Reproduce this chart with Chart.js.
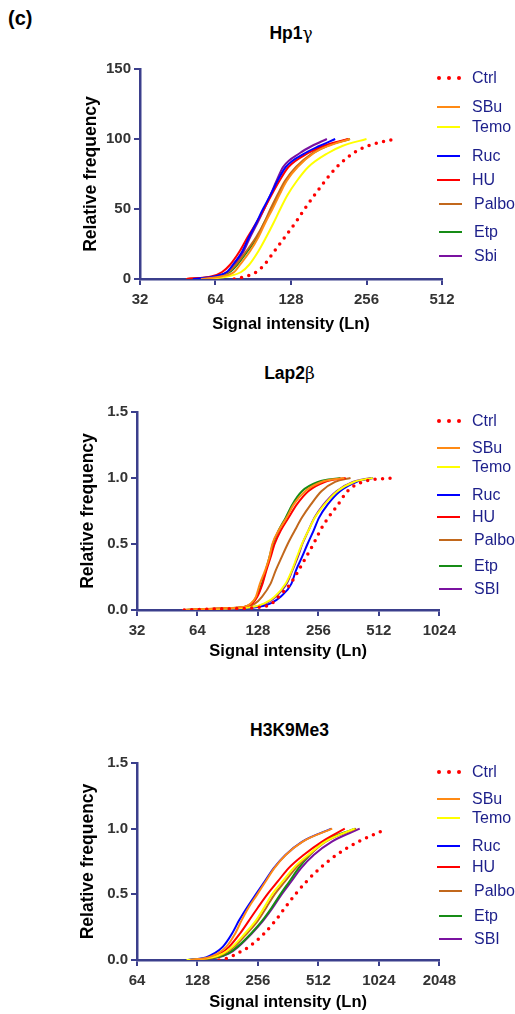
<!DOCTYPE html>
<html>
<head>
<meta charset="utf-8">
<title>Cumulative signal intensity</title>
<script src="https://cdn.jsdelivr.net/npm/chart.js@4.4.1/dist/chart.umd.min.js"></script>
<style>
  body { margin: 0; background: #fff; font-family: "Liberation Sans", Arial, sans-serif; }
  #page { position: relative; width: 515px; height: 1014px; overflow: hidden; background: #fff; }
  #tag { position: absolute; left: 8px; top: 7px; font-size: 20px; font-weight: bold; color: #000; }
  .panel-title { position: absolute; width: 300px; text-align: center; font-size: 17.5px; font-weight: bold; color: #000; line-height: 20px; }
  .panel-title .greek { font-weight: normal; font-family: "DejaVu Serif", serif; font-size: 17px; }
  .chart-box { position: absolute; }
  .legend-item { position: absolute; height: 18px; line-height: 18px; font-size: 16px; color: #1c1f8a; white-space: nowrap; }
  .legend-item .swatch { position: absolute; left: 0; top: 8px; width: 23px; height: 2px; }
  .legend-item .dot { position: absolute; top: 7px; width: 4px; height: 4px; border-radius: 50%; background: #ff0000; }
  .legend-item .label { position: absolute; left: 35px; top: 0; }
</style>
</head>
<body>
<div id="page">
  <div id="tag">(c)</div>
</div>
<script>
// ---- data ----
const NAMES_HP1 = ['Ctrl', 'SBu', 'Temo', 'Ruc', 'HU', 'Palbo', 'Etp', 'Sbi'];
const NAMES_LAP = ['Ctrl', 'SBu', 'Temo', 'Ruc', 'HU', 'Palbo', 'Etp', 'SBI'];
const NAMES_H3K = ['Ctrl', 'SBu', 'Temo', 'Ruc', 'HU', 'Palbo', 'Etp', 'SBI'];

// Hp1 gamma: cumulative frequency levels and the intensity where each curve reaches them
const HP1_LEVELS = [0, 2, 5, 10, 20, 30, 40, 50, 60, 70, 80, 90, 95, 100];
const HP1_CTRL  = [76, 85, 93, 100, 110, 121, 133, 145, 159, 175, 195, 227, 258, 332];
const HP1_SBU   = [56, 68, 76, 80, 88, 95, 101, 108, 115, 123, 136, 158, 180, 220];
const HP1_TEMO  = [60, 72, 81, 87, 95, 102, 109, 116, 124, 135, 150, 180, 205, 256];
const HP1_RUC   = [52, 64, 71, 75, 82, 87, 93, 99, 106, 113, 122, 146, 166, 192];
const HP1_HU    = [49, 62, 68, 73, 80, 86, 93, 100, 107, 115, 125, 150, 172, 216];
const HP1_PALBO = [49, 64, 72, 77, 85, 93, 100, 106, 113, 121, 134, 156, 177, 218];
const HP1_ETP   = [53, 65, 73, 78, 86, 94, 100, 107, 114, 122, 135, 157, 178, 220];
const HP1_SBI   = [54, 65, 72, 76, 83, 88, 94, 100, 106, 112, 119, 139, 155, 178];
const HP1_X_TICKS = [32, 64, 128, 256, 512];
const HP1_Y_TICKS = [0, 50, 100, 150];

// Lap2 beta
const LAP_LEVELS = [0, 0.01, 0.02, 0.05, 0.1, 0.2, 0.3, 0.4, 0.5, 0.6, 0.7, 0.8, 0.9, 0.97, 1.0];
const LAP_CTRL  = [55, 90, 130, 150, 162, 186, 204, 222, 242, 261, 287, 321, 357, 425, 590];
const LAP_SBU   = [54, 75, 105, 118, 125, 131, 139, 146, 151, 162, 178, 193, 220, 265, 345];
const LAP_TEMO  = [60, 85, 118, 138, 155, 176, 189, 200, 212, 228, 246, 275, 318, 385, 478];
const LAP_RUC   = [64, 92, 125, 148, 166, 188, 198, 212, 226, 242, 258, 285, 328, 395, 480];
const LAP_HU    = [58, 80, 108, 120, 127, 135, 141, 148, 155, 166, 182, 200, 228, 275, 350];
const LAP_PALBO = [55, 78, 108, 124, 134, 148, 157, 168, 180, 195, 212, 235, 265, 310, 370];
const LAP_ETP   = [56, 78, 106, 119, 126, 134, 140, 146, 152, 162, 176, 190, 212, 255, 330];
const LAP_SBI   = [62, 88, 120, 140, 157, 178, 190, 202, 213, 228, 245, 272, 315, 380, 470];
const LAP_X_TICKS = [32, 64, 128, 256, 512, 1024];
const LAP_Y_TICKS = [0, 0.5, 1.0, 1.5];

// H3K9Me3
const H3K_LEVELS = [0, 0.02, 0.05, 0.1, 0.2, 0.3, 0.4, 0.5, 0.6, 0.7, 0.8, 0.9, 1.0];
const H3K_CTRL_LEVELS = [0, 0.02, 0.05, 0.1, 0.2, 0.3, 0.4, 0.5, 0.6, 0.7, 0.8, 0.9, 0.98];
const H3K_CTRL  = [164, 185, 202, 231, 274, 313, 350, 393, 448, 522, 630, 807, 1052];
const H3K_SBU   = [118, 145, 162, 178, 197, 212, 230, 254, 280, 309, 352, 426, 600];
const H3K_TEMO  = [113, 152, 172, 191, 220, 250, 275, 301, 340, 385, 455, 552, 776];
const H3K_RUC   = [115, 141, 155, 171, 190, 206, 226, 250, 277, 307, 351, 424, 595];
const H3K_HU    = [115, 150, 167, 184, 208, 231, 256, 285, 322, 364, 432, 532, 693];
const H3K_PALBO = [120, 155, 175, 195, 225, 256, 282, 310, 350, 395, 462, 555, 790];
const H3K_ETP   = [118, 160, 182, 202, 236, 269, 300, 331, 368, 408, 465, 545, 776];
const H3K_SBI   = [120, 162, 184, 204, 238, 272, 304, 336, 376, 420, 485, 595, 822];
const H3K_X_TICKS = [64, 128, 256, 512, 1024, 2048];
const H3K_Y_TICKS = [0, 0.5, 1.0, 1.5];

// ---- styles ----
const COLORS = ['#ff0000', '#ff8a14', '#ffff00', '#0000ff', '#ff0000', '#c2681c', '#168c16', '#7a12a0'];
const AXIS_COLOR = '#3b3f8c';
const TICK_COLOR = '#333333';
const LEGEND_STEPS = [0, 0.163, 0.276, 0.44, 0.57, 0.71, 0.862, 1.0];

const panels = [
  {
    title: 'Hp1<span class="greek">γ</span>', names: NAMES_HP1,
    levels: [HP1_LEVELS, HP1_LEVELS, HP1_LEVELS, HP1_LEVELS, HP1_LEVELS, HP1_LEVELS, HP1_LEVELS, HP1_LEVELS],
    series: [HP1_CTRL, HP1_SBU, HP1_TEMO, HP1_RUC, HP1_HU, HP1_PALBO, HP1_ETP, HP1_SBI],
    xTicks: HP1_X_TICKS, yTicks: HP1_Y_TICKS, digits: 0,
    axisX: 140, right: 442, top: 67, bottom: 279, xTitleY: 325, titleY: 33
  },
  {
    title: 'Lap2<span class="greek">β</span>', names: NAMES_LAP,
    levels: [LAP_LEVELS, LAP_LEVELS, LAP_LEVELS, LAP_LEVELS, LAP_LEVELS, LAP_LEVELS, LAP_LEVELS, LAP_LEVELS],
    series: [LAP_CTRL, LAP_SBU, LAP_TEMO, LAP_RUC, LAP_HU, LAP_PALBO, LAP_ETP, LAP_SBI],
    xTicks: LAP_X_TICKS, yTicks: LAP_Y_TICKS, digits: 1,
    axisX: 137, right: 442, top: 410, bottom: 610, xTitleY: 652, titleY: 373
  },
  {
    title: 'H3K9Me3', names: NAMES_H3K,
    levels: [H3K_CTRL_LEVELS, H3K_LEVELS, H3K_LEVELS, H3K_LEVELS, H3K_LEVELS, H3K_LEVELS, H3K_LEVELS, H3K_LEVELS],
    series: [H3K_CTRL, H3K_SBU, H3K_TEMO, H3K_RUC, H3K_HU, H3K_PALBO, H3K_ETP, H3K_SBI],
    xTicks: H3K_X_TICKS, yTicks: H3K_Y_TICKS, digits: 1,
    axisX: 137, right: 442, top: 761, bottom: 960, xTitleY: 1003, titleY: 730
  }
];

const page = document.getElementById('page');

function addTitle(p) {
  const t = document.createElement('div');
  t.className = 'panel-title';
  t.innerHTML = p.title;
  t.style.left = ((p.axisX + p.right) / 2 - 150) + 'px';
  t.style.top = (p.titleY - 10) + 'px';
  page.appendChild(t);
}

function addLegend(p) {
  const start = p.top + 11;
  const span = (p.bottom - p.top) * 0.84;
  p.names.forEach((name, i) => {
    const item = document.createElement('div');
    item.className = 'legend-item';
    item.style.left = (437 + (i >= 5 ? 2 : 0)) + 'px';
    item.style.top = Math.round(start + LEGEND_STEPS[i] * span - 9) + 'px';
    if (i === 0) {
      [0, 10, 20].forEach(dx => {
        const d = document.createElement('span');
        d.className = 'dot';
        d.style.left = dx + 'px';
        item.appendChild(d);
      });
    } else {
      const s = document.createElement('span');
      s.className = 'swatch';
      s.style.background = COLORS[i];
      item.appendChild(s);
    }
    const lab = document.createElement('span');
    lab.className = 'label';
    lab.textContent = name;
    item.appendChild(lab);
    page.appendChild(item);
  });
}

function makeChart(p) {
  const left = p.axisX - 80, top = p.top - 10;
  const w = p.right + 20 - left, h = p.xTitleY + 15 - top;
  const box = document.createElement('div');
  box.className = 'chart-box';
  box.style.left = left + 'px';
  box.style.top = top + 'px';
  box.style.width = w + 'px';
  box.style.height = h + 'px';
  const canvas = document.createElement('canvas');
  canvas.width = w;
  canvas.height = h;
  canvas.style.width = w + 'px';
  canvas.style.height = h + 'px';
  box.appendChild(canvas);
  page.appendChild(box);

  const tickFont = { family: '"Liberation Sans", Arial, sans-serif', size: 15, weight: 'bold' };
  const xTitleFont = { family: '"Liberation Sans", Arial, sans-serif', size: 16.5, weight: 'bold' };
  const yTitleFont = { family: '"Liberation Sans", Arial, sans-serif', size: 17.5, weight: 'bold' };

  new Chart(canvas, {
    type: 'line',
    data: {
      datasets: p.series.map((vals, i) => ({
        label: p.names[i],
        data: vals.map((v, k) => ({ x: v, y: p.levels[i][k] })),
        borderColor: COLORS[i],
        borderWidth: i === 0 ? 3.5 : 2,
        borderDash: i === 0 ? [0, 7.5] : [],
        borderCapStyle: i === 0 ? 'round' : 'butt',
        pointRadius: 0,
        cubicInterpolationMode: 'monotone',
        fill: false
      }))
    },
    options: {
      responsive: false,
      animation: false,
      layout: { padding: { top: 10, right: 20, left: 0, bottom: 0 } },
      plugins: { legend: { display: false }, tooltip: { enabled: false } },
      scales: {
        x: {
          type: 'logarithmic',
          min: p.xTicks[0],
          max: p.xTicks[p.xTicks.length - 1],
          afterBuildTicks: s => { s.ticks = p.xTicks.map(v => ({ value: v })); },
          afterFit: s => { s.height = p.xTitleY + 15 - p.bottom; },
          ticks: { callback: v => String(v), font: tickFont, color: TICK_COLOR, padding: 6, maxRotation: 0, autoSkip: false },
          grid: { drawOnChartArea: false, tickLength: 6, color: AXIS_COLOR, lineWidth: 2 },
          border: { color: AXIS_COLOR, width: 2.5 },
          title: { display: true, text: 'Signal intensity (Ln)', font: xTitleFont, color: '#000', padding: { top: 0, bottom: 6 } }
        },
        y: {
          min: p.yTicks[0],
          max: p.yTicks[p.yTicks.length - 1],
          afterBuildTicks: s => { s.ticks = p.yTicks.map(v => ({ value: v })); },
          afterFit: s => { s.width = 80; },
          ticks: { callback: v => Number(v).toFixed(p.digits), font: tickFont, color: TICK_COLOR, padding: 3 },
          grid: { drawOnChartArea: false, tickLength: 6, color: AXIS_COLOR, lineWidth: 2 },
          border: { color: AXIS_COLOR, width: 2.5 },
          title: { display: true, text: 'Relative frequency', font: yTitleFont, color: '#000', padding: { top: 21, bottom: 0 } }
        }
      }
    }
  });
}

panels.forEach(p => {
  addTitle(p);
  makeChart(p);
  addLegend(p);
});
</script>
</body>
</html>
